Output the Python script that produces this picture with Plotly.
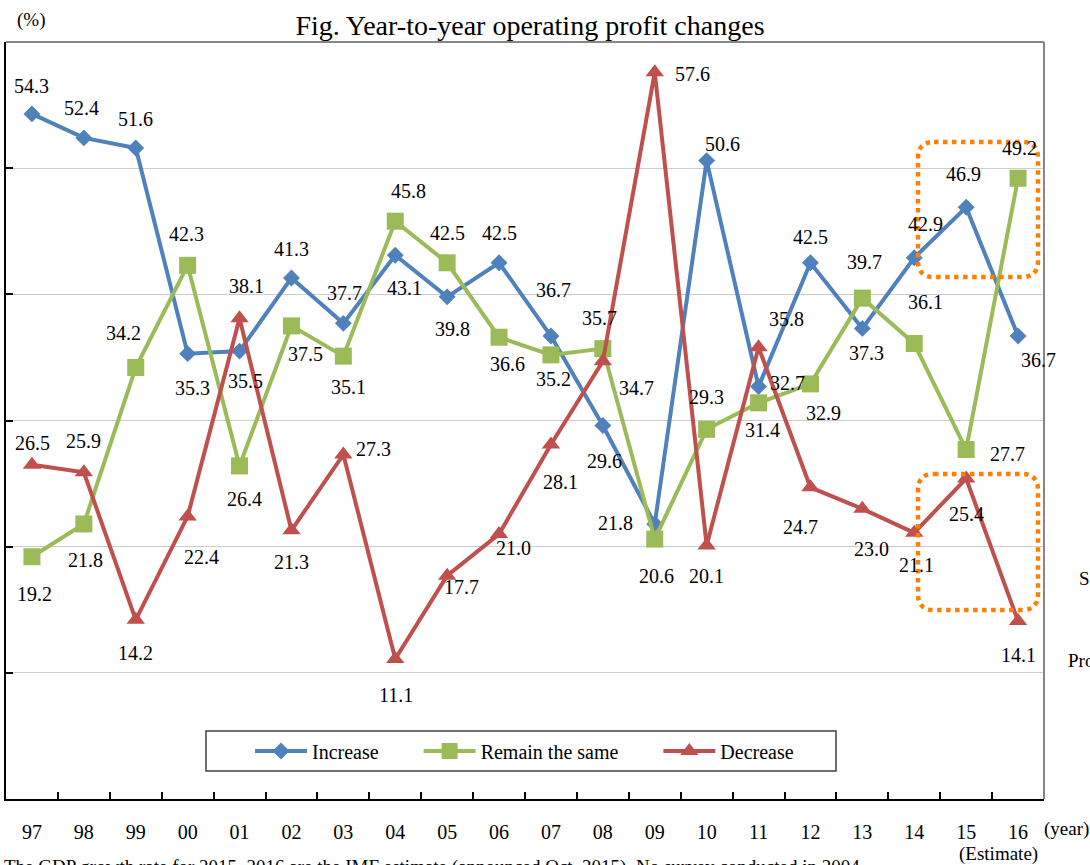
import plotly.graph_objects as go

# ---------------- data ----------------
years = ["97", "98", "99", "00", "01", "02", "03", "04", "05", "06",
         "07", "08", "09", "10", "11", "12", "13", "14", "15", "16"]
increase = [54.3, 52.4, 51.6, 35.3, 35.5, 41.3, 37.7, 43.1, 39.8, 42.5,
            36.7, 29.6, 21.8, 50.6, 32.7, 42.5, 37.3, 42.9, 46.9, 36.7]
remain_same = [19.2, 21.8, 34.2, 42.3, 26.4, 37.5, 35.1, 45.8, 42.5, 36.6,
               35.2, 35.7, 20.6, 29.3, 31.4, 32.9, 39.7, 36.1, 27.7, 49.2]
decrease = [26.5, 25.9, 14.2, 22.4, 38.1, 21.3, 27.3, 11.1, 17.7, 21.0,
            28.1, 34.7, 57.6, 20.1, 35.8, 24.7, 23.0, 21.1, 25.4, 14.1]
series_names = ["Increase", "Remain the same", "Decrease"]

# label offsets (screen px: dx right, dy down) -- styling only
inc_off = [(0, -28), (-2, -30), (0, -29), (5, 34), (6, 30), (0, -29), (1, -30), (9, 33),
           (5, 32), (0, -30), (3, -46), (2, 35), (-39, -1), (16, -17), (29, -3), (0, -26),
           (4, 25), (11, -34), (-3, -33), (20, 24)]
rem_off = [(3, 37), (2, 36), (-12, -35), (-1, -31), (5, 33), (14, 28), (5, 31), (13, -30),
           (0, -30), (8, 27), (3, 24), (-3, -31), (2, 37), (0, -32), (4, 27), (13, 29),
           (2, -36), (11, -42), (41, 4), (1, -30)]
dec_off = [(1, -22), (0, -31), (0, 33), (14, 41), (7, -32), (0, 32), (30, -6), (1, 36),
           (14, 11), (14, 14), (10, 38), (34, 27), (38, 2), (0, 31), (28, -28), (-10, 40),
           (9, 40), (2, 32), (0, 35), (0, 34)]

# ---------------- layout constants ----------------
W, H = 1090, 865
L, R, T, B = 6, 1044, 42, 799   # plot area in px
FONT = "Liberation Serif"
BLUE, GREEN, RED = "#4F81BD", "#9BBB59", "#C0504D"
ORANGE = "#FF8000"
NBSP = "\u00a0"


def px(xp):
    return (xp - L) / (R - L)


def py(yp):
    return (B - yp) / (B - T)


fig = go.Figure()

styles = [
    (increase, BLUE, "diamond", 13, inc_off, NBSP * 7),
    (remain_same, GREEN, "square", 17, rem_off, NBSP * 7),
    (decrease, RED, "triangle-up", 16, dec_off, ""),
]

annotations = []
for (vals, color, sym, msize, offs, pad), name in zip(styles, series_names):
    fig.add_trace(go.Scatter(
        x=years, y=vals, name=name + pad, mode="lines+markers",
        line=dict(color=color, width=4),
        marker=dict(symbol=sym, size=msize, color=color),
        cliponaxis=False,
    ))
    for i, (yv, (dx, dy)) in enumerate(zip(vals, offs)):
        annotations.append(dict(
            x=i, y=yv, xref="x", yref="y", text=f"{yv:.1f}", showarrow=False,
            xshift=dx, yshift=-dy, font=dict(family=FONT, size=20, color="black"),
        ))


def paper_text(text, xp, yp, size=19, xanchor="center"):
    annotations.append(dict(
        x=px(xp), y=py(yp), xref="paper", yref="paper", text=text, showarrow=False,
        xanchor=xanchor, yanchor="middle", font=dict(family=FONT, size=size, color="black"),
    ))


paper_text("(%)", 31, 20, size=19)
paper_text("(year)", 1066, 829, size=19)
paper_text("(Estimate)", 998, 854, size=19)
paper_text("The GDP growth rate for 2015, 2016 are the IMF estimate (announced Oct. 2015). "
           "No survey conducted in 2004.", 2, 867, size=19, xanchor="left")
paper_text("Sales", 1077, 578, size=19, xanchor="left")
paper_text("Profit", 1066, 660, size=19, xanchor="left")


def rounded_rect(x0, y0, x1, y1, r):
    a, b, c, d = px(x0), px(x1), py(y0), py(y1)
    rx = r / (R - L)
    ry = r / (B - T)
    return (f"M {a + rx} {c} L {b - rx} {c} Q {b} {c} {b} {c - ry} "
            f"L {b} {d + ry} Q {b} {d} {b - rx} {d} "
            f"L {a + rx} {d} Q {a} {d} {a} {d + ry} "
            f"L {a} {c - ry} Q {a} {c} {a + rx} {c} Z")


shapes = [
    dict(type="line", xref="paper", yref="paper", x0=0, x1=1, y0=1, y1=1,
         line=dict(color="#868686", width=2)),
    dict(type="line", xref="paper", yref="paper", x0=1, x1=1, y0=0, y1=1,
         line=dict(color="#868686", width=2)),
    # legend frame
    dict(type="rect", xref="paper", yref="paper", x0=px(206), x1=px(836), y0=py(771), y1=py(731),
         line=dict(color="#404040", width=1.5), fillcolor="white", layer="above"),
    dict(type="path", xref="paper", yref="paper", path=rounded_rect(918, 142, 1038, 277, 16),
         line=dict(color=ORANGE, width=4.5, dash="dot"), layer="above"),
    dict(type="path", xref="paper", yref="paper", path=rounded_rect(918, 474, 1038, 610, 16),
         line=dict(color=ORANGE, width=4.5, dash="dot"), layer="above"),
]

fig.update_layout(
    width=W, height=H,
    margin=dict(l=L, r=W - R, t=T, b=H - B, pad=0),
    paper_bgcolor="white", plot_bgcolor="white",
    font=dict(family=FONT, color="black"),
    title=dict(text="Fig. Year-to-year operating profit changes", x=530 / W, xanchor="center",
               y=1 - 25 / H, yanchor="middle", font=dict(family=FONT, size=28, color="black")),
    showlegend=True,
    legend=dict(orientation="h", x=px(250), y=py(751), xanchor="left", yanchor="middle",
                borderwidth=0, bgcolor="rgba(0,0,0,0)", itemwidth=52,
                font=dict(family=FONT, size=20, color="black")),
    xaxis=dict(type="category", categoryorder="array", categoryarray=years,
               range=[-0.5, 19.5], showline=True, linecolor="black", linewidth=2,
               ticks="inside", ticklen=7, tickwidth=1.5, tickcolor="black",
               tickson="boundaries", showgrid=False, zeroline=False,
               tickfont=dict(family=FONT, size=20, color="black"), ticklabelstandoff=14),
    yaxis=dict(range=[0, 60], dtick=10, tick0=0, showticklabels=False,
               ticks="inside", ticklen=7, tickwidth=1.5, tickcolor="black",
               showline=True, linecolor="black", linewidth=2,
               showgrid=True, gridcolor="#CDCDCD", gridwidth=1, zeroline=False),
    annotations=annotations,
    shapes=shapes,
)

fig.write_html("out.html", config={"displayModeBar": False},
               post_script="document.body.style.margin='0';")
